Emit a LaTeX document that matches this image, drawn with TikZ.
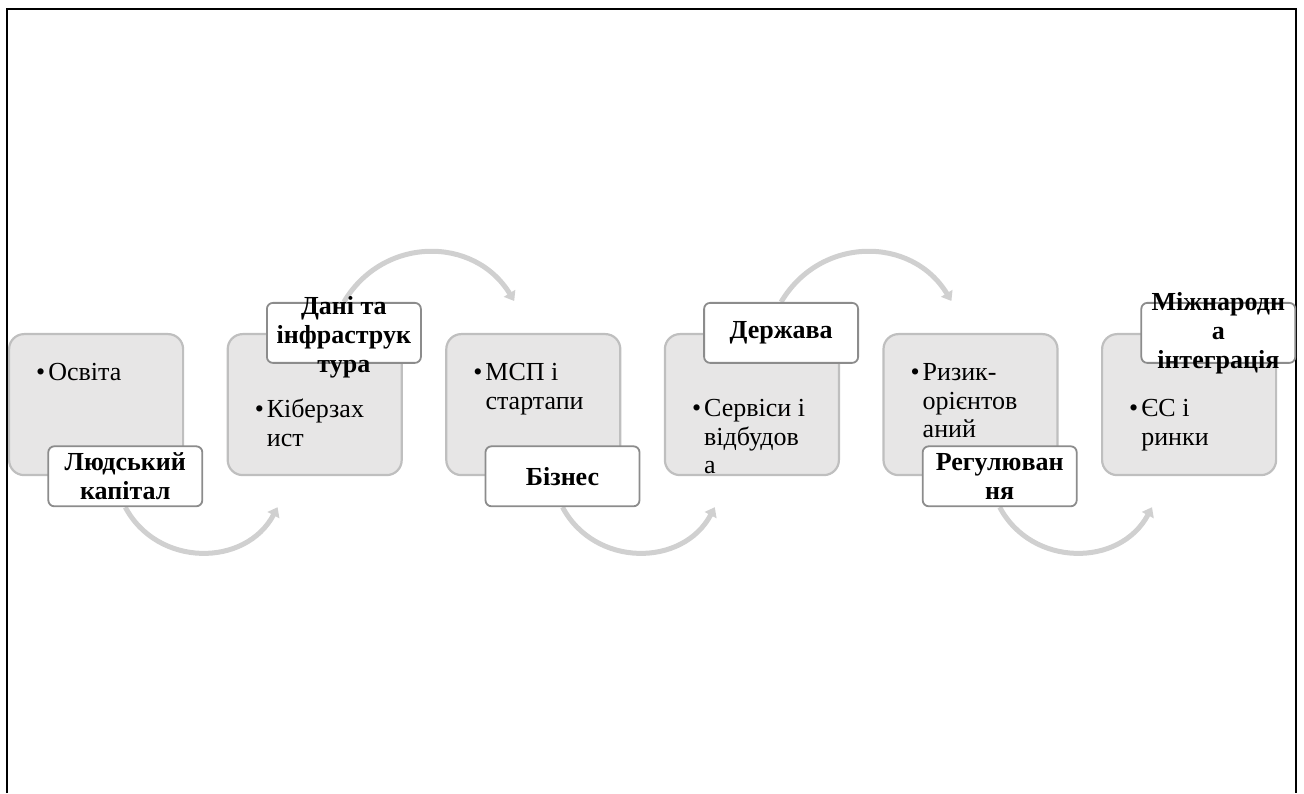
\documentclass[tikz,border=0pt]{standalone}
\usepackage{fontspec}
\setmainfont{Liberation Serif}
\usetikzlibrary{arrows.meta,positioning,calc,backgrounds}

\definecolor{cardfill}{HTML}{E7E6E6}
\definecolor{cardline}{HTML}{BFBFBF}
\definecolor{tagline}{HTML}{8C8C8C}
\definecolor{flowgray}{HTML}{D0D0D0}

\newcommand{\blist}[1]{\begin{tabular}[t]{@{}l@{\hspace{3pt}}l@{}}#1\end{tabular}}

\begin{document}
\begin{tikzpicture}[
  x=1pt, y=1pt, node distance=42.4pt,
  card/.style={draw=cardline, line width=2.2pt, fill=cardfill, rounded corners=15pt,
               minimum width=174pt, minimum height=141pt, inner sep=0pt},
  tag/.style={draw=tagline, line width=1.8pt, fill=white, rounded corners=6pt,
              minimum width=154pt, minimum height=60pt, inner sep=0pt},
  tagtext/.style={font=\fontsize{26}{29}\selectfont\bfseries, align=center, inner sep=0pt},
  list/.style={font=\fontsize{26}{28.5}\selectfont, anchor=base west, inner sep=0pt},
  flow/.style={draw=flowgray, line width=5pt, -{Triangle[length=9pt,width=13pt]}, looseness=1.15},
]
\useasboundingbox (0,0) rectangle (1304,793);
\draw[line width=2pt] (7,0) |- (1296,784) -- (1296,0);

% stages
\node[card, anchor=north west] (b1) at (8,460) {};
\node[card, right=of b1] (b2) {};
\node[card, right=of b2] (b3) {};
\node[card, right=of b3] (b4) {};
\node[card, right=of b4] (b5) {};
\node[card, right=of b5] (b6) {};

\node[list] (t1) at ($(b1.north west)+(28,-48)$) {\blist{•&Освіта}};
\node[list] (t2) at ($(b2.north west)+(28,-85)$) {\blist{•&Кіберзах\\&ист}};
\node[list] (t3) at ($(b3.north west)+(28,-48)$) {\blist{•&МСП і\\&стартапи}};
\node[list] (t4) at ($(b4.north west)+(28,-84)$) {\blist{•&Сервіси і\\&відбудов\\&а}};
\node[list] (t5) at ($(b5.north west)+(28,-48)$) {\blist{•&Ризик-\\&орієнтов\\&аний}};
\node[list] (t6) at ($(b6.north west)+(28,-84)$) {\blist{•&ЄС і\\&ринки}};

% titles
\node[tag, anchor=south east, label={[tagtext]center:Людський\\капітал}] (l1) at ($(b1.south east)+(19,-31)$) {};
\node[tag, anchor=north east, label={[tagtext, yshift=-4pt]center:Дані та\\інфраструк\\тура}] (l2) at ($(b2.north east)+(19,31)$) {};
\node[tag, anchor=south east, label={[tagtext]center:Бізнес}] (l3) at ($(b3.south east)+(19,-31)$) {};
\node[tag, anchor=north east, label={[tagtext]center:Держава}] (l4) at ($(b4.north east)+(19,31)$) {};
\node[tag, anchor=south east, label={[tagtext]center:Регулюван\\ня}] (l5) at ($(b5.south east)+(19,-31)$) {};
\node[tag, anchor=north east, label={[tagtext]center:Міжнародн\\а\\інтеграція}] (l6) at ($(b6.north east)+(19,31)$) {};

% arrows between stages
\coordinate (e1) at ($(b2.south west)+(51,-31)$);
\coordinate (e2) at ($(b3.north west)+(69,32)$);
\coordinate (e3) at ($(b4.south west)+(51,-31)$);
\coordinate (e4) at ($(b5.north west)+(69,32)$);
\coordinate (e5) at ($(b6.south west)+(51,-31)$);
\begin{scope}[on background layer]
  \draw[flow] (l1.south) to[bend right=62] (e1);
  \draw[flow] (l2.north) to[bend left=59] (e2);
  \draw[flow] (l3.south) to[bend right=62] (e3);
  \draw[flow] (l4.north) to[bend left=59] (e4);
  \draw[flow] (l5.south) to[bend right=62] (e5);
\end{scope}
\end{tikzpicture}
\end{document}
